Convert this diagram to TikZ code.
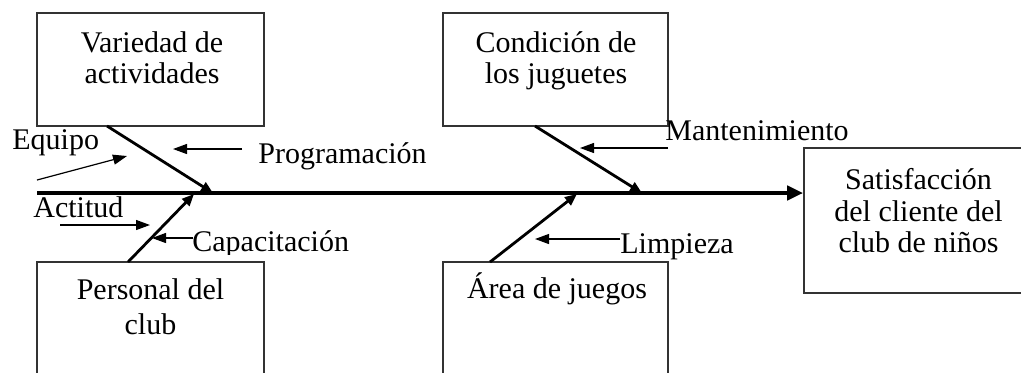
\documentclass[tikz,border=0pt]{standalone}
\usepackage{fontspec}
\setmainfont{Liberation Serif}
\usetikzlibrary{arrows.meta}
\begin{document}
\begin{tikzpicture}[x=0.5pt,y=-0.5pt,
  font=\fontsize{15}{15.8}\selectfont,
  box/.style={draw=black!80,line width=0.8pt,inner sep=0pt,fill=none},
  txt/.style={inner sep=0pt,align=center},
  lbl/.style={inner sep=0pt,anchor=base west},
  spine/.style={line width=2.2pt,-{Triangle[length=8pt,width=7pt]}},
  bone/.style={line width=1.4pt,-{Triangle[length=6pt,width=5pt]}},
  sub/.style={line width=0.6pt,-{Triangle[length=7pt,width=5pt]}}]
\clip (0,0) rectangle (1021,372);
\fill[white] (0,0) rectangle (1021,372);
% boxes
\node[box,minimum width=113.5pt,minimum height=56.5pt] (v) at (150.5,69.5) {};
\node[box,minimum width=112.5pt,minimum height=56.5pt] (c) at (555.5,69.5) {};
\node[box,minimum width=113.5pt,minimum height=69pt] (p) at (150.5,331) {};
\node[box,minimum width=112.5pt,minimum height=69pt] (a) at (555.5,331) {};
\node[box,minimum width=114.5pt,minimum height=72.5pt] (s) at (918.5,220.5) {};
% box texts
\node[txt,anchor=north] (vt) at (152,31) {Variedad de\\actividades};
\node[txt,anchor=north] (ct) at (556,31) {Condición de\\los juguetes};
\node[txt,anchor=north] (pt) at (150.5,278) {Personal del\\[2pt]club};
\node[txt,anchor=base] (at) at (557,298) {Área de juegos};
\node[txt,anchor=north] (st) at (918.5,168) {Satisfacción\\del cliente del\\club de niños};
% spine
\coordinate (tail) at (37,193);
\draw[spine] (tail) -- (tail -| s.west);
% bones
\coordinate (b1) at (107,126);  \coordinate (j1) at (213,193);
\coordinate (b2) at (128,262);  \coordinate (j2) at (194,194);
\coordinate (b3) at (535,126);  \coordinate (j3) at (642,193);
\coordinate (b4) at (490,262);  \coordinate (j4) at (577,194);
\draw[bone] (b1) -- (j1);
\draw[bone] (b2) -- (j2);
\draw[bone] (b3) -- (j3);
\draw[bone] (b4) -- (j4);
% labels
\node[lbl] (eq) at (12,149) {Equipo};
\node[lbl] (ac) at (33,217) {Actitud};
\node[lbl] (pr) at (258,163) {Programación};
\begin{scope}
\clip (150,200) rectangle (400,254);
\node[lbl] (ca) at (192,251) {Capacitación};
\end{scope}
\node[lbl] (ma) at (665,140) {Mantenimiento};
\node[lbl] (li) at (620,253) {Limpieza};
% sub-cause arrows
\coordinate (e0) at (37,180);   \coordinate (e1) at (127,156);
\coordinate (a0) at (60,225);   \coordinate (a1) at (150,225);
\coordinate (p0) at (242,149);  \coordinate (p1) at (173,149);
\coordinate (c0) at (193,238);  \coordinate (c1) at (152,238);
\coordinate (m0) at (668,148);  \coordinate (m1) at (580,148);
\coordinate (l0) at (620,239);  \coordinate (l1) at (535,239);
\draw[sub] (e0) -- (e1);
\draw[sub] (a0) -- (a1);
\draw[sub] (p0) -- (p1);
\draw[sub] (c0) -- (c1);
\draw[sub] (m0) -- (m1);
\draw[sub] (l0) -- (l1);
\end{tikzpicture}
\end{document}
